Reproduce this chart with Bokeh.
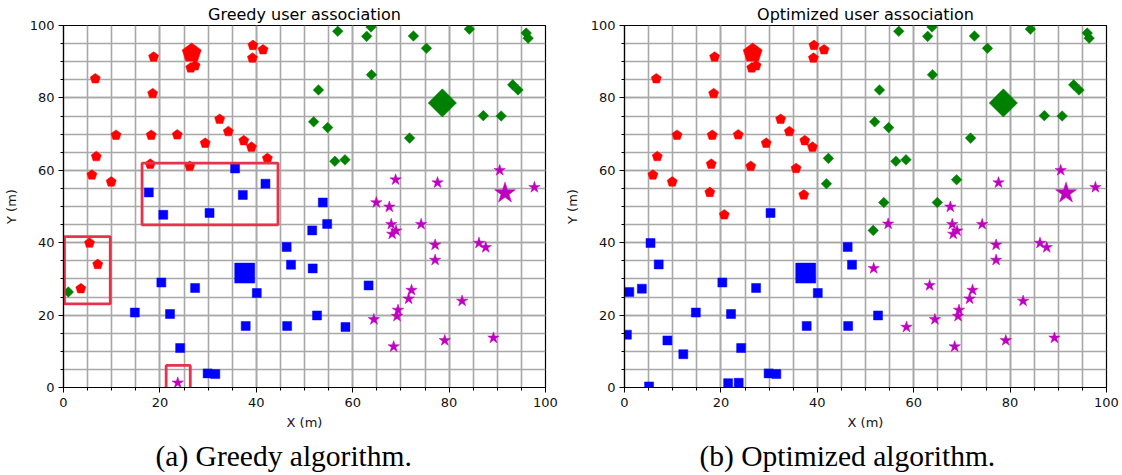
import numpy as np
from bokeh.plotting import figure
from bokeh.layouts import row
from bokeh.models import Range1d, SingleIntervalTicker, Title
from bokeh.embed import file_html
from bokeh.resources import INLINE

# ---------------- data ----------------
user_x = [6.6, 18.7, 18.5, 26.4, 27.3, 39.3, 39.2, 41.4, 10.9, 18.2, 23.6, 32.4, 34.2,
          29.4, 37.4, 39.0, 6.8, 5.9, 9.9, 18.0, 26.2, 35.6, 17.7, 37.2, 20.7,
          56.9, 63.8, 62.9, 72.6, 75.3, 84.2, 96.0, 96.4, 63.9, 52.9, 93.2, 94.3, 87.1,
          90.8, 51.9, 54.8, 71.8, 56.3, 58.4, 42.3, 41.9, 68.9, 53.8, 64.9, 51.6,
          5.4, 7.1, 1.0, 3.6, 0.5, 8.9, 12.2, 5.1, 14.8, 20.3, 22.1, 27.3, 24.2, 21.5,
          23.7, 29.9, 31.5, 40.1, 37.8, 30.3, 46.3, 47.2, 52.6, 46.4,
          90.5, 77.6, 97.7, 67.6, 54.7, 68.0, 74.2, 69.0, 68.2, 77.1, 86.2, 87.6, 77.1,
          51.7, 63.3, 72.2, 71.6, 82.7, 69.4, 69.2, 64.4, 58.5, 79.1, 89.2, 68.5]
user_y = [85.3, 91.3, 81.2, 88.3, 88.9, 94.5, 91.0, 93.3, 69.7, 69.7, 69.8, 74.1, 70.7,
          67.5, 68.2, 66.4, 63.8, 58.7, 56.8, 61.7, 61.1, 60.5, 53.9, 53.2, 47.7,
          98.4, 99.6, 97.0, 97.1, 93.7, 99.0, 97.9, 96.5, 86.4, 82.2, 83.6, 82.2, 75.1,
          75.0, 73.4, 71.8, 68.9, 62.5, 62.9, 63.3, 56.3, 57.4, 51.1, 51.1, 43.4,
          39.9, 34.0, 26.4, 27.3, 14.6, 13.0, 9.2, 0.3, 20.7, 29.0, 20.3, 27.5, 10.9, 1.2,
          1.3, 3.9, 3.7, 26.1, 17.0, 48.2, 38.8, 33.9, 19.9, 17.0,
          60.0, 56.6, 55.3, 49.9, 45.2, 45.1, 45.1, 43.3, 42.4, 39.4, 39.9, 38.7, 35.2,
          32.9, 28.2, 26.9, 24.5, 23.9, 21.4, 19.7, 18.8, 16.7, 13.0, 13.7, 11.3]
# association of every user ("" = not served)
greedy_assoc = (["R"] * 21 + ["B"] * 4 +
                ["G"] * 19 + ["R", "B", "M", "B", "M", "B"] +
                ["R", "R", "G", "R", "", "", "", "", "B", "B", "B", "B", "B", "",
                 "M", "B", "B", "B", "B", "B", "B", "B", "B", "B"] +
                ["M", "M", "M", "M", "B", "M", "M", "M", "M", "M", "M", "M", "M",
                 "B", "B", "M", "M", "M", "M", "M", "M", "B", "M", "M", "M"])
opt_assoc = ["R"] * 25 + ["G"] * 25 + ["B"] * 24 + ["M"] * 25

bs_x = [26.6, 78.6, 37.6, 91.6]
bs_y = [92.4, 78.6, 31.6, 53.7]
bs_cls = ["R", "G", "B", "M"]

box_left = [16.3, 0.2, 21.3]
box_right = [44.5, 9.7, 26.3]
box_bottom = [44.9, 23.1, -0.8]
box_top = [62.0, 41.7, 6.1]

# ---------------- styling ----------------
FW, FH = 482, 362
PXX, PXY = FW / 100.0, FH / 100.0
COLORS = {"R": "#ff0000", "G": "#008000", "B": "#0000ff", "M": "#bf00bf"}
FONT = "DejaVu Sans"


def pentagon_patches(xs, ys, r):
    ang = np.deg2rad(90 + 72 * np.arange(5))
    pxs, pys = [], []
    for x, y in zip(xs, ys):
        pxs.append(list(x + r * np.cos(ang) / PXX))
        pys.append(list(y + r * np.sin(ang) / PXY))
    return pxs, pys


def draw_class(p, cls, xs, ys, big):
    if not xs:
        return
    c = COLORS[cls]
    if cls == "R":
        pxs, pys = pentagon_patches(xs, ys, 10.0 if big else 5.3)
        p.patches(pxs, pys, fill_color=c, line_color=c, line_width=0.5)
    elif cls == "G":
        p.scatter(xs, ys, marker="square", angle=np.pi / 4, size=20 if big else 7.5,
                  fill_color=c, line_color=c, line_width=0.5)
    elif cls == "B":
        p.scatter(xs, ys, marker="square", size=20 if big else 9,
                  fill_color=c, line_color=c, line_width=0.5)
    else:
        p.scatter(xs, ys, marker="star", size=22 if big else 12,
                  fill_color=c, line_color=c, line_width=0.5)


def make_fig(title, caption, cap_offset, assoc, boxes, top, bottom, left, right):
    p = figure(frame_width=FW, frame_height=FH, x_range=Range1d(0, 100), y_range=Range1d(0, 100),
               output_backend="svg", toolbar_location=None,
               min_border_top=top, min_border_bottom=bottom,
               min_border_left=left, min_border_right=right)
    p.title.text = title
    p.title.align = "center"
    p.title.text_font = FONT
    p.title.text_font_size = "16px"
    p.title.text_font_style = "normal"
    p.title.text_color = "black"
    p.title.standoff = 4
    for ax in (p.xaxis[0], p.yaxis[0]):
        ax.ticker = SingleIntervalTicker(interval=20, num_minor_ticks=4)
        ax.major_label_text_font = FONT
        ax.major_label_text_font_size = "13px"
        ax.major_label_text_color = "#111111"
        ax.axis_label_text_font = FONT
        ax.axis_label_text_font_size = "13px"
        ax.axis_label_text_font_style = "normal"
        ax.axis_label_text_color = "#111111"
        ax.axis_line_color = "black"
        ax.axis_line_width = 1.2
        ax.major_tick_out = 5
        ax.major_tick_in = 0
        ax.minor_tick_out = 3
        ax.minor_tick_in = 0
        ax.major_tick_line_color = "black"
        ax.minor_tick_line_color = "black"
    p.xaxis.axis_label = "X (m)"
    p.yaxis.axis_label = "Y (m)"
    p.xaxis.major_label_standoff = 5
    p.yaxis.major_label_standoff = 4
    p.xaxis.axis_label_standoff = 5
    p.yaxis.axis_label_standoff = 8
    for g in (p.xgrid[0], p.ygrid[0]):
        g.grid_line_color = "#a8a8a8"
        g.grid_line_width = 1.6
        g.minor_grid_line_color = "#a8a8a8"
        g.minor_grid_line_width = 1.6
    p.outline_line_color = "black"
    p.outline_line_width = 1.2
    p.outline_line_alpha = 1.0

    for cls in ["R", "G", "B", "M"]:
        xs = [x for x, a in zip(user_x, assoc) if a == cls]
        ys = [y for y, a in zip(user_y, assoc) if a == cls]
        draw_class(p, cls, xs, ys, False)
    for x, y, cls in zip(bs_x, bs_y, bs_cls):
        draw_class(p, cls, [x], [y], True)

    if boxes:
        p.quad(left=box_left, right=box_right, bottom=box_bottom, top=box_top,
               fill_color=None, line_color="#e6324b", line_width=2.8)

    cap = Title(text=caption, align="left", offset=cap_offset, text_font="Liberation Serif",
                text_font_size="29.5px", text_font_style="normal", text_color="black")
    p.add_layout(cap, "below")
    return p


p1 = make_fig("Greedy user association", "(a) Greedy algorithm.", 92, greedy_assoc, True,
              25, 88, 63, 16)
p2 = make_fig("Optimized user association", "(b) Optimized algorithm.", 75, opt_assoc, False,
              23, 90, 62, 15)

layout = row(p1, p2, spacing=0)
open("out.html", "w").write(file_html(layout, INLINE))
